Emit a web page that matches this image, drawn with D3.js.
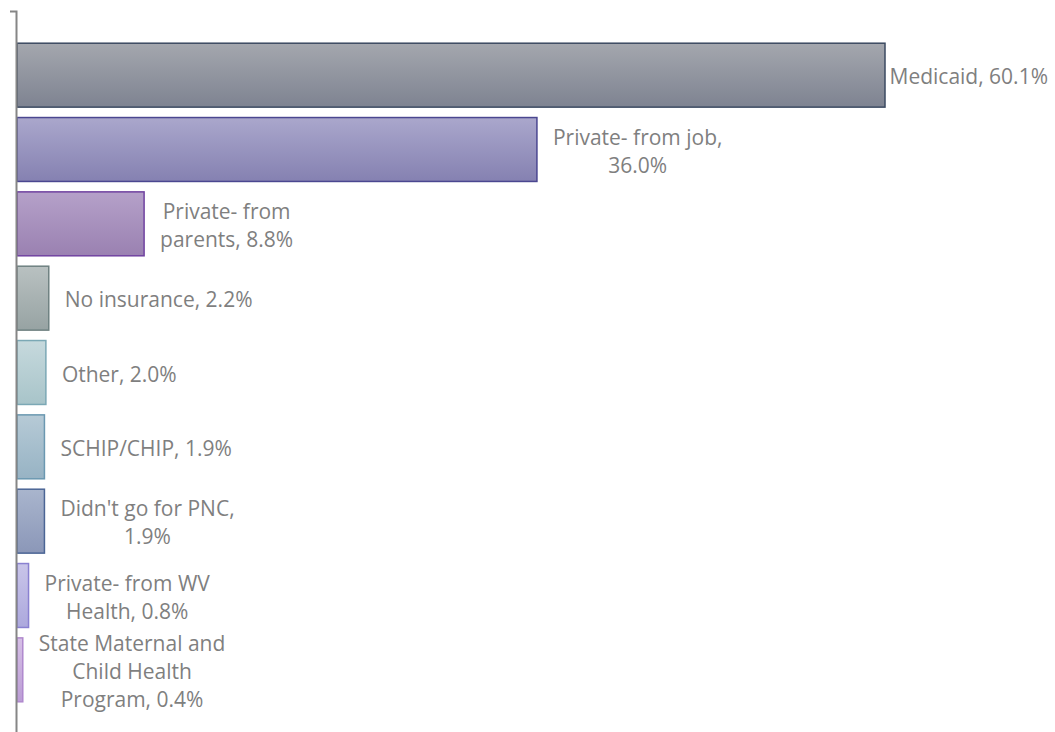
<!DOCTYPE html>
<html>
<head>
<meta charset="utf-8">
<script src="https://cdn.jsdelivr.net/npm/d3@7"></script>
<style>
  body { margin: 0; background: #fff; }
  svg { display: block; }
  .bar-label { font-family: "Open Sans", Lato, sans-serif; font-size: 21px; fill: #7f7f7f; }
</style>
</head>
<body>
<div id="chart"></div>
<script>
// categories, top to bottom
const categories = ["Medicaid", "Private- from job", "Private- from parents", "No insurance", "Other",
    "SCHIP/CHIP", "Didn't go for PNC", "Private- from WV Health", "State Maternal and Child Health Program"];
const values = [60.1, 36.0, 8.8, 2.2, 2.0, 1.9, 1.9, 0.8, 0.4];
// wrapped label lines as they appear on the chart
const labelLines = [
    ["Medicaid, 60.1%"],
    ["Private- from job,", "36.0%"],
    ["Private- from", "parents, 8.8%"],
    ["No insurance, 2.2%"],
    ["Other, 2.0%"],
    ["SCHIP/CHIP, 1.9%"],
    ["Didn't go for PNC,", "1.9%"],
    ["Private- from WV", "Health, 0.8%"],
    ["State Maternal and", "Child Health", "Program, 0.4%"]
];
const topColors = ["#a4a7ae", "#aaa7cc", "#b5a1c9", "#b9c1c1", "#c6d9dd", "#b6cad6", "#a9b5cd", "#c9c5e9", "#d6bfe6"];
const bottomColors = ["#7e8391", "#8581b1", "#9a81b1", "#97a3a3", "#a8c4c9", "#97b3c4", "#8b97b8", "#aca8dd", "#bb9dd5"];
const strokeColors = ["#3b4a61", "#4a4690", "#7042a0", "#6e8181", "#7ba8b5", "#6b98b1", "#4b6595", "#8a81d1", "#b089cd"];

const width = 1055, height = 732;
const x0 = 17;

const svg = d3.select("#chart")
    .append("svg")
    .attr("width", width)
    .attr("height", height);

const defs = svg.append("defs");
categories.forEach((c, i) => {
    const g = defs.append("linearGradient")
        .attr("id", "grad" + i)
        .attr("x1", 0).attr("y1", 0).attr("x2", 0).attr("y2", 1);
    g.append("stop").attr("offset", "0%").attr("stop-color", topColors[i]);
    g.append("stop").attr("offset", "100%").attr("stop-color", bottomColors[i]);
});

const x = d3.scaleLinear().domain([0, 60.1]).range([x0, 885]);
const y = d3.scaleBand().domain(categories).range([38, 707])
    .paddingInner(0.14).paddingOuter(0.07);

svg.selectAll(".bar")
    .data(categories)
    .enter().append("rect")
    .attr("class", "bar")
    .attr("x", x(0))
    .attr("y", d => y(d))
    .attr("width", (d, i) => x(values[i]) - x(0))
    .attr("height", y.bandwidth())
    .attr("fill", (d, i) => `url(#grad${i})`)
    .attr("stroke", (d, i) => strokeColors[i])
    .attr("stroke-width", 1.5);

// category axis, no labels
svg.append("path")
    .attr("d", `M10,11.5H16.5V${height}`)
    .attr("fill", "none")
    .attr("stroke", "#868686")
    .attr("stroke-width", 2);

const lineH = 28;
const labels = svg.selectAll(".bar-label")
    .data(categories)
    .enter().append("text")
    .attr("class", "bar-label")
    .attr("text-anchor", "middle");

labels.each(function(d, i) {
    const t = d3.select(this);
    const lines = labelLines[i];
    const cy = y(d) + y.bandwidth() / 2 + 1;
    lines.forEach((l, j) => {
        t.append("tspan")
            .attr("y", cy + (j - (lines.length - 1) / 2) * lineH)
            .attr("dominant-baseline", "central")
            .text(l);
    });
    let w = 0;
    t.selectAll("tspan").each(function() { w = Math.max(w, this.getComputedTextLength()); });
    let left = x(values[i]) + 16;
    if (left + w > width - 7) left = width - 7 - w;
    t.selectAll("tspan").attr("x", left + w / 2);
});
</script>
</body>
</html>
